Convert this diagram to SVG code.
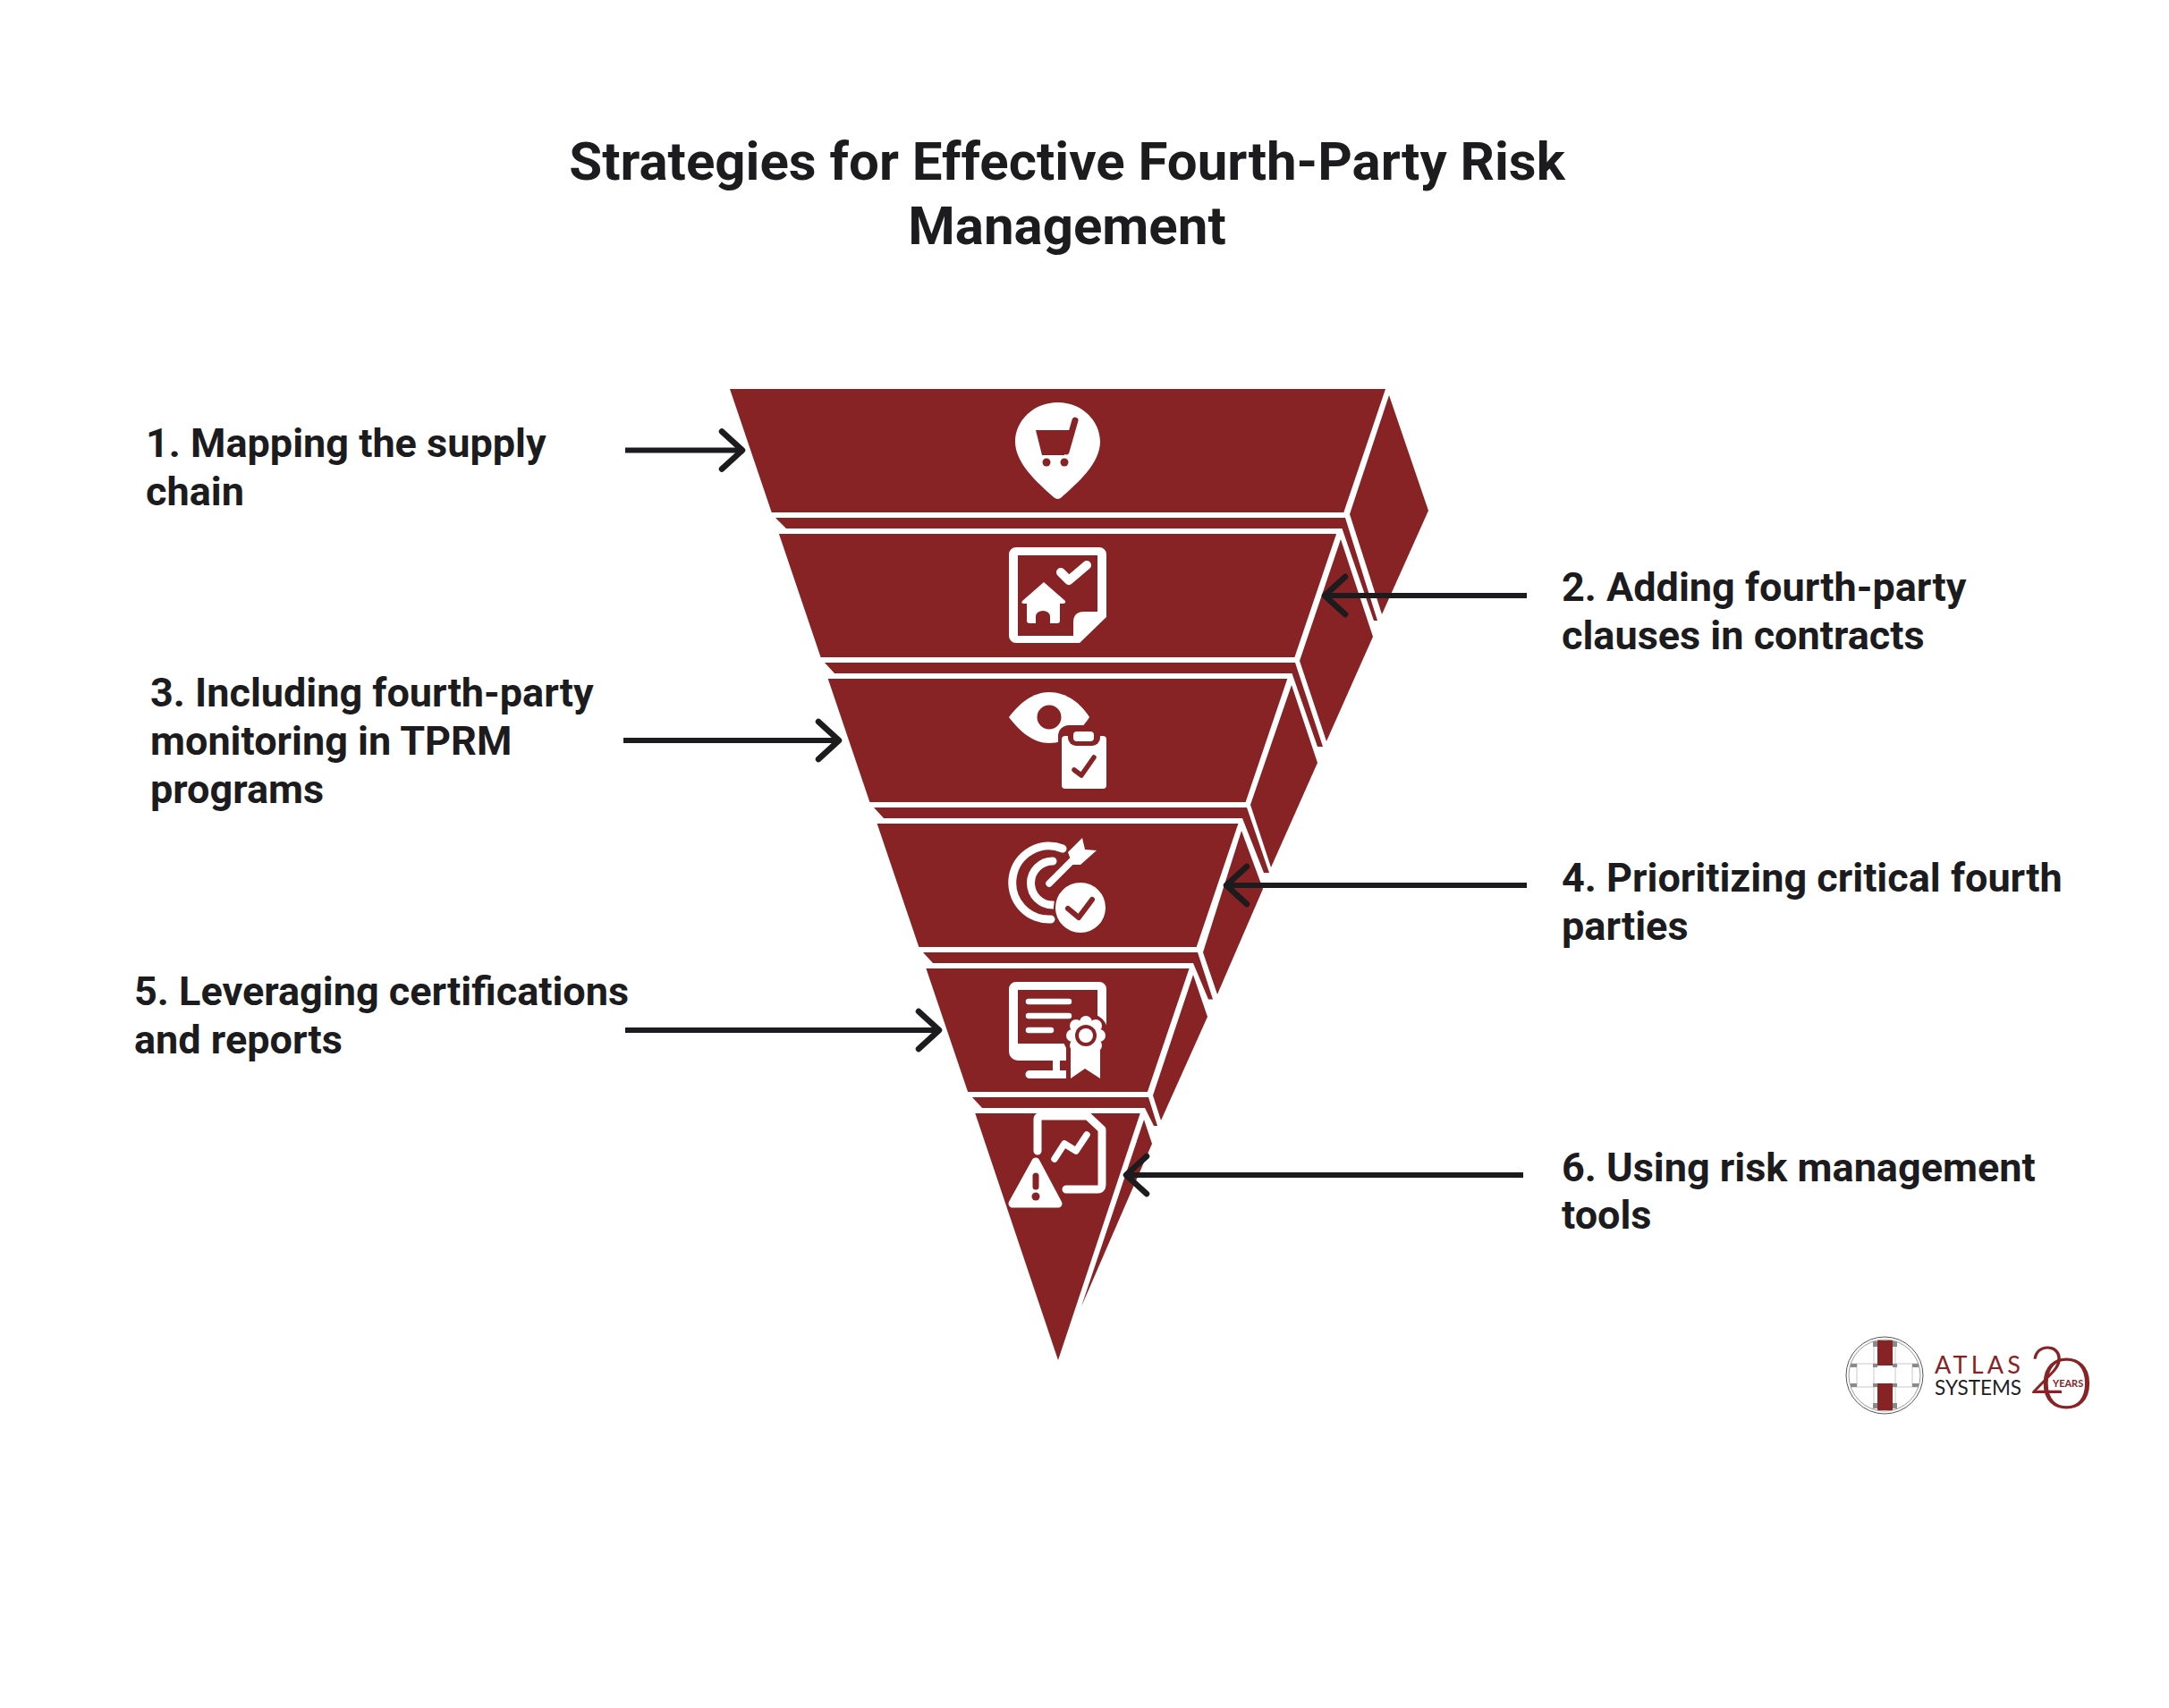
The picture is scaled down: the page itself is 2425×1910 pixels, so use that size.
<svg xmlns="http://www.w3.org/2000/svg" width="2425" height="1910" viewBox="0 0 2425 1910">
<style>
.r{fill:#872324}
.w{fill:#fff}
.t{font-family:Roboto,"Liberation Sans",sans-serif;font-weight:700;fill:#1c1c1e}
.title{font-size:60px}
.lab{font-size:45px}
.rs{fill:none;stroke:#872324;stroke-linecap:round;stroke-linejoin:round}
.ws{fill:none;stroke:#fff;stroke-linecap:round;stroke-linejoin:round}
.conn{fill:none;stroke:#1c1c1e;stroke-width:6;marker-end:url(#head)}
.lg{fill:#8a8a8a}
.ll{fill:none;stroke:#c9c9c9;stroke-width:1}
.logo{font-family:Lato,"Open Sans",sans-serif}
</style>
<defs>
<marker id="head" markerUnits="userSpaceOnUse" viewBox="-28 -25 32 50" refX="0" refY="0" markerWidth="32" markerHeight="50" orient="auto">
<path d="M-23 -21L0 0L-23 21" fill="none" stroke="#1c1c1e" stroke-width="6.5" stroke-linecap="round" stroke-linejoin="round"/>
</marker>
</defs>
<rect width="2425" height="1910" fill="#fff"/>
<g id="title"><text class="t title" text-anchor="middle" x="1193" y="201">Strategies for Effective Fourth-Party Risk</text><text class="t title" text-anchor="middle" x="1193" y="273">Management</text></g>

<g id="step-1">
<polygon class="r" points="816,435 1549,435 1502.3,573 862.7,573"/>
<polygon class="r" points="1553,442 1597,571 1545,687 1509,575"/>
<polygon class="r" points="867,579 1504,579 1540,694 1536,694 1500.5,591 879,591"/>
<path class="w" d="M1182.7 450C1209 450 1230 470 1230 494C1230 520 1200 544 1187 556Q1182.7 560 1178 556C1165 544 1135 520 1135 494C1135 470 1156 450 1182.7 450Z"/>
<path class="r" d="M1158 481H1197L1190 509H1165Z"/>
<path class="rs" stroke-width="7" d="M1202 470L1192 505"/>
<circle class="r" cx="1170" cy="517" r="4.500"/><circle class="r" cx="1190" cy="517" r="4.500"/>
<text class="t lab" x="163" y="511">1. Mapping the supply</text><text class="t lab" x="163" y="565">chain</text>
</g>

<g id="step-2">
<polygon class="r" points="870.9,597 1494.1,597 1447.4,735 917.6,735"/>
<polygon class="r" points="1499,603 1535,712 1483,829 1453,739"/>
<polygon class="r" points="922,741 1448,741 1479,835 1473,835 1444.5,753 933,753"/>
<path class="w" fill-rule="evenodd" d="M1136 612H1229a8 8 0 0 1 8 8V690L1207 719H1136a8 8 0 0 1-8-8V620a8 8 0 0 1 8-8ZM1138 621V711H1200V696Q1200 684 1212 684H1227V621Z"/>
<path class="ws" stroke-width="10" d="M1186 640L1195 649L1215 632"/>
<path class="w" d="M1167 651L1191 672Q1192 675 1188 675H1185V694Q1185 697 1182 697H1174V689A8 6 0 0 0 1158 689V697H1151Q1148 697 1148 694V675H1145Q1141 675 1143 672Z"/>
<text class="t lab" x="1746" y="672">2. Adding fourth-party</text><text class="t lab" x="1746" y="726">clauses in contracts</text>
</g>

<g id="step-3">
<polygon class="r" points="925.7,759 1439.3,759 1392.6,897 972.4,897"/>
<polygon class="r" points="1444,766 1473,853 1421,970 1398,900"/>
<polygon class="r" points="977,903 1394,903 1419,976 1413,976 1389,915 988,915"/>
<path class="w" d="M1128 802C1140 786 1155 774 1173 774C1192 774 1208 786 1218 802C1208 818 1192 831 1173 831C1155 831 1140 818 1128 802Z"/>
<circle class="r" cx="1173" cy="802" r="13.500"/>
<rect class="r" x="1183" y="811" width="58" height="40" rx="12"/>
<rect class="w" x="1187" y="823" width="50" height="59" rx="4"/>
<rect class="r" x="1194" y="813" width="36" height="21" rx="9"/>
<rect class="w" x="1200" y="818" width="23" height="11" rx="4"/>
<path class="rs" stroke-width="5.500" d="M1201 861L1209 867L1223 847"/>
<text class="t lab" x="168" y="790">3. Including fourth-party</text><text class="t lab" x="168" y="844">monitoring in TPRM</text><text class="t lab" x="168" y="898">programs</text>
</g>

<g id="step-4">
<polygon class="r" points="980.6,921 1384.4,921 1337.7,1059 1027.3,1059"/>
<polygon class="r" points="1388,929 1412,994 1361,1112 1345,1065"/>
<polygon class="r" points="1032,1065 1339,1065 1356,1117.5 1351,1117.5 1334,1077 1043,1077"/>
<path class="ws" stroke-width="9" d="M1188 949A41 41 0 1 0 1175 1028"/>
<path class="ws" stroke-width="9" d="M1177 963A24.500 24.500 0 1 0 1177 1012"/>
<path class="ws" stroke-width="7.500" d="M1173 988L1203 958"/>
<path class="w" d="M1194 953L1210 937L1213 950L1226 951L1208 967H1199Z"/>
<circle class="w" cx="1208" cy="1015" r="29" stroke="#872324" stroke-width="2"/>
<path class="rs" stroke-width="6" d="M1194 1016L1206 1026L1221 1006"/>
<text class="t lab" x="1746" y="997">4. Prioritizing critical fourth</text><text class="t lab" x="1746" y="1051">parties</text>
</g>

<g id="step-5">
<polygon class="r" points="1035.4,1083 1329.6,1083 1282.9,1221 1082.1,1221"/>
<polygon class="r" points="1334,1090 1350,1137 1298,1253 1289,1225"/>
<polygon class="r" points="1087,1227 1284,1227 1294,1259 1290,1259 1280,1239 1098,1239"/>
<path class="w" fill-rule="evenodd" d="M1136 1098H1229a8 8 0 0 1 8 8V1186H1138a10 10 0 0 1-10-10V1106a8 8 0 0 1 8-8ZM1138 1107V1167H1227V1107Z"/>
<rect class="r" x="1192" y="1160" width="48" height="50"/>
<circle class="r" cx="1214" cy="1158" r="26"/>
<path class="w" d="M1177 1186H1185V1197H1192V1206H1151a4.500 4.500 0 0 1 0-9H1177Z"/>
<path class="ws" stroke-width="6.500" d="M1150 1120H1195M1150 1136H1195M1150 1152H1175"/>
<polygon class="w" points="1197,1172 1230,1172 1230,1206 1213,1195 1197,1206"/>
<g class="w"><circle cx="1214" cy="1143" r="7"/><circle cx="1225" cy="1147" r="7"/><circle cx="1229" cy="1158" r="7"/><circle cx="1225" cy="1169" r="7"/><circle cx="1214" cy="1173" r="7"/><circle cx="1203" cy="1169" r="7"/><circle cx="1199" cy="1158" r="7"/><circle cx="1203" cy="1147" r="7"/><circle cx="1214" cy="1158" r="16"/></g>
<circle class="r" cx="1214" cy="1158" r="12"/><circle class="w" cx="1214" cy="1158" r="8"/>
<text class="t lab" x="150" y="1124">5. Leveraging certifications</text><text class="t lab" x="150" y="1178">and reports</text>
</g>

<g id="step-6">
<polygon class="r" points="1090.3,1245 1274.7,1245 1183,1521"/>
<polygon class="r" points="1279,1252 1288,1279 1209,1461"/>
<path class="ws" stroke-width="9" d="M1160 1287V1252Q1160 1248 1165 1248H1216L1232 1263V1325Q1232 1330 1227 1330H1192"/>
<path class="ws" stroke-width="7.500" d="M1179 1296L1190 1279L1203 1287L1215 1269"/>
<polygon class="w" stroke="#fff" stroke-width="9" stroke-linejoin="round" points="1158,1299 1132,1346 1183,1346"/>
<path class="rs" stroke-width="7" d="M1158 1315V1327"/>
<circle class="r" cx="1158" cy="1338" r="4.500"/>
<text class="t lab" x="1746" y="1321">6. Using risk management</text><text class="t lab" x="1746" y="1374">tools</text>
</g>

<g id="connectors">
<path class="conn" d="M699 503.500H830"/>
<path class="conn" d="M1707 666H1481"/>
<path class="conn" d="M697 828H938"/>
<path class="conn" d="M1707 990H1371"/>
<path class="conn" d="M699 1152H1050"/>
<path class="conn" d="M1703 1314H1259"/>
</g>

<g id="logo">
<circle cx="2107" cy="1538" r="43" fill="#fff" stroke="#555" stroke-width="1"/>
<circle cx="2107" cy="1538" r="40" fill="none" stroke="#999" stroke-width="1"/>
<path class="ll" d="M2070 1525H2144M2070 1551H2144M2095 1499V1577M2119 1499V1577M2076 1525V1551M2138 1525V1551"/>
<rect class="r" x="2099" y="1499" width="17" height="28"/><rect class="r" x="2099" y="1547" width="17" height="30"/>
<g class="lg"><rect x="2094" y="1500" width="5" height="6"/><rect x="2116" y="1500" width="5" height="6"/><rect x="2069" y="1525" width="7" height="4"/><rect x="2094" y="1525" width="5" height="4"/><rect x="2116" y="1525" width="5" height="4"/><rect x="2138" y="1525" width="7" height="4"/><rect x="2069" y="1547" width="7" height="4"/><rect x="2094" y="1547" width="5" height="4"/><rect x="2116" y="1547" width="5" height="4"/><rect x="2138" y="1547" width="7" height="4"/><rect x="2094" y="1569" width="5" height="6"/><rect x="2116" y="1569" width="5" height="6"/></g>
<text class="logo" x="2163" y="1536" font-size="27" letter-spacing="4.200" fill="#872324">ATLAS</text>
<text class="logo" x="2163" y="1560" font-size="22.500" fill="#222">SYSTEMS</text>
<text class="logo" x="2268" y="1558" font-size="72" font-weight="300" fill="#872324">2</text>
<text class="logo" transform="translate(2281 1575) scale(1.3 1)" x="0" y="0" font-size="78" font-weight="300" fill="#872324">0</text>
<text class="logo" x="2295" y="1551" font-size="11" font-weight="700" fill="#872324">YEARS</text>
</g>
</svg>
